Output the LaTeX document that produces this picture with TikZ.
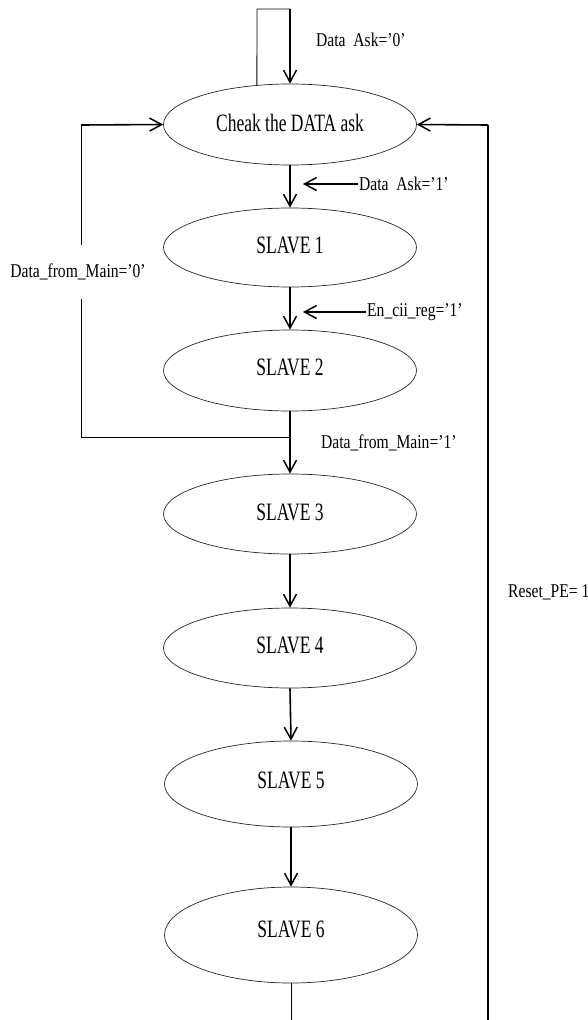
\documentclass[tikz,border=0pt]{standalone}
\usepackage{fontspec}
\setmainfont{Liberation Serif}
\newfontfamily\bigf[FakeStretch=0.7]{Liberation Serif}
\newfontfamily\labf[FakeStretch=0.8]{Liberation Serif}
\usetikzlibrary{arrows.meta,shapes.geometric}
\begin{document}
\begin{tikzpicture}[x=1pt,y=-1pt,
  state/.style={ellipse, draw=black!85, line width=0.7pt, minimum width=253pt,
    minimum height=#1, inner sep=0pt, font=\bigf\fontsize{25}{30}\selectfont},
  lab/.style={inner sep=1pt, font=\labf\fontsize{19.5}{22}\selectfont},
  arr/.style={line width=1.6pt, -{Straight Barb[length=12pt,width=13pt,line width=1.5pt]}},
  thinl/.style={line width=0.9pt},
  medl/.style={line width=1.3pt}]
\useasboundingbox (0,0) rectangle (588,1020);

% states
\node[state=81pt] (C0) at (290,124.5) {\raisebox{4pt}{Cheak the DATA ask}};
\node[state=79pt] (S1) at (290,247.5) {\raisebox{4pt}{SLAVE 1}};
\node[state=81pt] (S2) at (290,370.5) {\raisebox{6pt}{SLAVE 2}};
\node[state=80pt] (S3) at (290,514) {\raisebox{4pt}{SLAVE 3}};
\node[state=80pt] (S4) at (290,648) {\raisebox{6pt}{SLAVE 4}};
\node[state=86pt] (S5) at (291,784) {\raisebox{7pt}{SLAVE 5}};
\node[state=96pt] (S6) at (291,935) {\raisebox{11pt}{SLAVE 6}};

% main flow
\draw[arr] (C0.south) -- (S1.north);
\draw[arr] (S1.south) -- (S2.north);
\draw[arr] (S2.south) -- (S3.north);
\draw[arr] (S3.south) -- (S4.north);
\draw[arr] (S4.south) -- (S5.north);
\draw[arr] (S5.south) -- (S6.north);

% top self loop
\coordinate (ltop) at (257,9);
\coordinate (rtop) at (290,9);
\draw[thinl] (C0.130) -- (ltop) -- (rtop);
\draw[arr] (rtop) -- (C0.north);
\node[lab, anchor=west] (l0) at (315,40) {Data~~Ask=’0’};

% transition labels with arrows
\node[lab, anchor=west] (l1) at (358,184) {Data~~Ask=’1’};
\coordinate (a1) at (303,184);
\draw[arr] (l1.west) -- (a1);
\node[lab, anchor=west] (l2) at (366,312) {En\_cii\_reg=’1’};
\coordinate (a2) at (303,312);
\draw[arr] (l2.west) -- (a2);
\node[lab, anchor=west] (l3) at (320,443) {Data\_from\_Main=’1’};

% left feedback loop
\coordinate (j) at (290,437);
\coordinate (lc) at (81,125);
\node[lab, inner ysep=19pt] (l4) at (78,272) {Data\_from\_Main=’0’};
\draw[thinl] (j) -| (lc |- l4.south);
\draw[thinl] (lc |- l4.north) -- (lc);
\draw[arr] (lc) -- (C0.west);

% right reset loop
\coordinate (rb) at (488,1020);
\coordinate (rt) at (488,125);
\draw[medl] (rb) -- (rt);
\draw[arr] (rt) -- (C0.east);
\node[lab, anchor=west] (l5) at (507,592) {Reset\_PE= 1};

% bottom exit
\coordinate (bb) at (291,1020);
\draw[thinl] (S6.south) -- (bb);
\end{tikzpicture}
\end{document}
